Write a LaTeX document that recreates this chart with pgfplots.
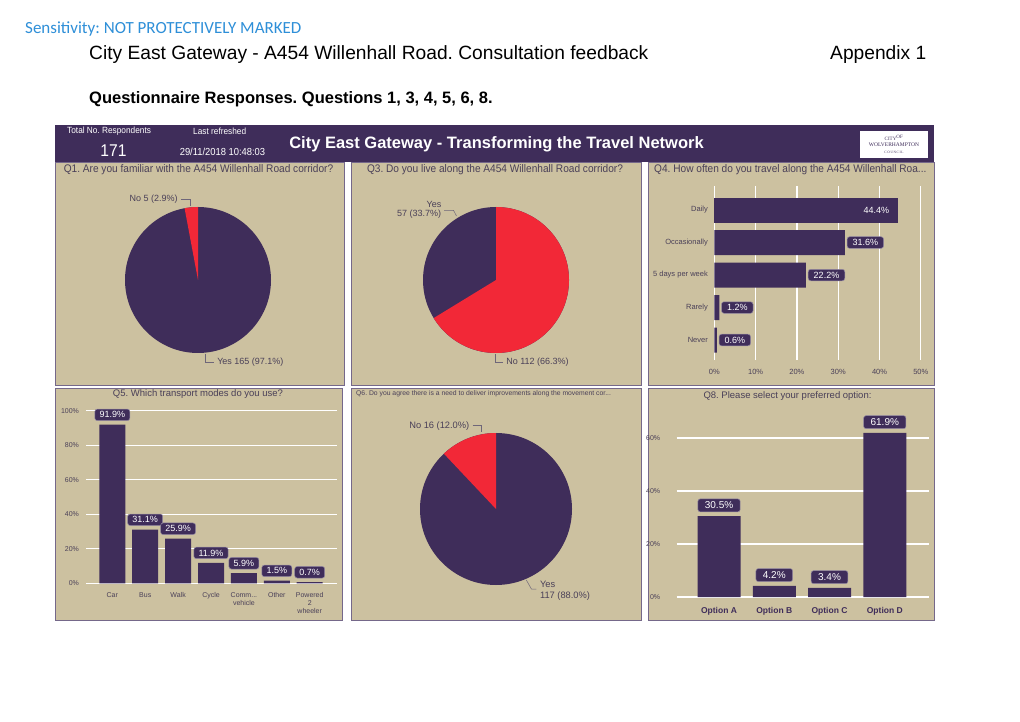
\documentclass[border=0pt]{standalone}
\usepackage{fontspec}
\setmainfont{Liberation Sans}
\newfontfamily\narrowfont[FakeStretch=0.92]{Liberation Sans}
\newfontfamily\calibrifont{Carlito}
\newfontfamily\logofont{Liberation Serif}
\usepackage{pgfplots}
\pgfplotsset{compat=1.18}
\pgfplotsset{/pgf/number format/assume math mode=true}
\frenchspacing
\definecolor{qpurple}{HTML}{3F2D5A}
\definecolor{qred}{HTML}{F22837}
\definecolor{qtan}{HTML}{CCC1A0}
\definecolor{qborder}{HTML}{75688A}
\definecolor{qtext}{HTML}{4A4058}
\definecolor{sensblue}{HTML}{2E8FD8}
% pie data
\def\qoneYes{165}\def\qoneNo{5}
\def\qthreeYes{57}\def\qthreeNo{112}
\def\qsixYes{117}\def\qsixNo{16}
\def\commlabel{Comm{.}{.}{.}}
\pgfplotsset{
  pieaxis/.style={anchor=center, hide axis, scale only axis, width=#1, height=#1,
    xmin=-1, xmax=1, ymin=-1, ymax=1, clip=false},
}
\tikzset{valbox/.style={fill=qpurple, draw=qpurple!55!white, line width=0.5pt, rounded corners=2.5pt, text=white}}
\begin{document}
\frenchspacing
\begin{tikzpicture}[x=1pt,y=1pt]
\useasboundingbox (0pt,0pt) rectangle (1020pt,721pt);
\fill[white] (0pt,0pt) rectangle (1020pt,721pt);
% page header
\node[anchor=west, inner sep=0, text=sensblue, font=\calibrifont\fontsize{17}{19}\selectfont] at (25pt,692pt) {Sensitivity: NOT PROTECTIVELY MARKED};
\node[anchor=west, inner sep=0, font=\fontsize{19.2}{21}\selectfont] at (89pt,666pt) {City East Gateway - A454 Willenhall Road. Consultation feedback};
\node[anchor=west, inner sep=0, font=\fontsize{19.2}{21}\selectfont] at (830pt,666pt) {Appendix 1};
\node[anchor=west, inner sep=0, font=\bfseries\fontsize{16.5}{18}\selectfont] at (89pt,622pt) {Questionnaire Responses. Questions 1, 3, 4, 5, 6, 8.};
% dashboard header
\fill[qpurple] (55pt,558.5pt) rectangle (934pt,596pt);
\node[anchor=west, inner sep=0, text=white, font=\narrowfont\fontsize{9}{10}\selectfont] at (67pt,590pt) {Total No. Respondents};
\node[anchor=west, inner sep=0, text=white, font=\narrowfont\fontsize{9}{10}\selectfont] at (193pt,590pt) {Last refreshed};
\node[inner sep=0, text=white, font=\narrowfont\fontsize{17}{18}\selectfont] at (113.5pt,570pt) {171};
\node[inner sep=0, text=white, font=\narrowfont\fontsize{10.2}{11}\selectfont] at (222.5pt,569pt) {29/11/2018 10:48:03};
\node[inner sep=0, text=white, font=\bfseries\fontsize{16.5}{18}\selectfont] at (496.5pt,577pt) {City East Gateway - Transforming the Travel Network};
\fill[white] (860pt,563pt) rectangle (928pt,590pt);
\node[inner sep=0, text=qpurple, font=\logofont\fontsize{5}{5}\selectfont] at (894pt,583pt) {CITY\textsuperscript{OF}};
\node[inner sep=0, text=qpurple, font=\logofont\fontsize{5.5}{6}\selectfont] at (894pt,576pt) {WOLVERHAMPTON};
\node[inner sep=0, text=qpurple, font=\logofont\fontsize{3.5}{4}\selectfont] at (894pt,569pt) {C\,O\,U\,N\,C\,I\,L};
% panels
\filldraw[fill=qtan, draw=qborder, line width=0.8pt] (55pt,336pt) rectangle (344pt,558.5pt);
\filldraw[fill=qtan, draw=qborder, line width=0.8pt] (351pt,336pt) rectangle (641pt,558.5pt);
\filldraw[fill=qtan, draw=qborder, line width=0.8pt] (648pt,336pt) rectangle (934pt,558.5pt);
\filldraw[fill=qtan, draw=qborder, line width=0.8pt] (55pt,101pt) rectangle (342pt,333pt);
\filldraw[fill=qtan, draw=qborder, line width=0.8pt] (351pt,101pt) rectangle (641pt,333pt);
\filldraw[fill=qtan, draw=qborder, line width=0.8pt] (648pt,101pt) rectangle (934pt,333pt);
% panel titles
\node[inner sep=0, text=qtext, font=\narrowfont\fontsize{11}{12}\selectfont] at (198.5pt,551pt) {Q1. Are you familiar with the A454 Willenhall Road corridor?};
\node[inner sep=0, text=qtext, font=\narrowfont\fontsize{11}{12}\selectfont] at (495pt,551pt) {Q3. Do you live along the A454 Willenhall Road corridor?};
\node[anchor=west, inner sep=0, text=qtext, font=\narrowfont\fontsize{11}{12}\selectfont] at (654pt,551pt) {Q4. How often do you travel along the A454 Willenhall Roa...};
\node[inner sep=0, text=qtext, font=\fontsize{9.5}{11}\selectfont] at (198pt,327pt) {Q5. Which transport modes do you use?};
\node[anchor=west, inner sep=0, text=qtext, font=\fontsize{6.8}{8}\selectfont] at (356pt,327pt) {Q6. Do you agree there is a need to deliver improvements along the movement cor...};
\node[inner sep=0, text=qtext, font=\fontsize{9.5}{11}\selectfont] at (787.5pt,325pt) {Q8. Please select your preferred option:};
% pie angles from data
\pgfmathsetmacro\angA{\qoneNo/(\qoneNo+\qoneYes)*360}
\pgfmathsetmacro\angB{-\qthreeNo/(\qthreeNo+\qthreeYes)*360}
\pgfmathsetmacro\angC{\qsixNo/(\qsixNo+\qsixYes)*360}
% Q1 pie
\begin{axis}[pieaxis=146pt, at={(198pt,441pt)}]
\fill[qpurple] (axis cs:0,0) circle[radius=73pt];
\fill[qred] (axis cs:0,0) -- ++(90:73pt) arc[start angle=90, delta angle=\angA, radius=73pt] -- cycle;
\end{axis}
% Q3 pie
\begin{axis}[pieaxis=146pt, at={(496pt,441pt)}]
\fill[qpurple] (axis cs:0,0) circle[radius=73pt];
\fill[qred] (axis cs:0,0) -- ++(90:73pt) arc[start angle=90, delta angle=\angB, radius=73pt] -- cycle;
\end{axis}
% Q6 pie
\begin{axis}[pieaxis=152pt, at={(496pt,212pt)}]
\fill[qpurple] (axis cs:0,0) circle[radius=76pt];
\fill[qred] (axis cs:0,0) -- ++(90:76pt) arc[start angle=90, delta angle=\angC, radius=76pt] -- cycle;
\end{axis}
% pie labels
\begin{scope}[every node/.style={inner sep=0, text=qtext, font=\fontsize{9}{10}\selectfont}, draw=qtext!80!white, line width=0.5pt]
\node[anchor=east] at (178pt,522pt) {No 5 (2.9\%)};
\draw (181pt,522pt) -- (190pt,522pt) -- (190pt,515pt);
\node[anchor=west] at (217pt,359pt) {Yes 165 (97.1\%)};
\draw (205pt,367pt) -- (205pt,359pt) -- (214pt,359pt);
\node[anchor=east] at (441.5pt,517pt) {Yes};
\node[anchor=east] at (441.5pt,506.7pt) {57 (33.7\%)};
\draw (444pt,510.7pt) -- (453.5pt,510.7pt) -- (456.5pt,505pt);
\node[anchor=west] at (506pt,359pt) {No 112 (66.3\%)};
\draw (495.6pt,367pt) -- (495.6pt,359pt) -- (503pt,359pt);
\node[anchor=east, font=\fontsize{9.3}{10}\selectfont] at (469.5pt,295.3pt) {No 16 (12.0\%)};
\draw (472.7pt,295.3pt) -- (481.5pt,295.3pt) -- (481.5pt,289.3pt);
\node[anchor=west, font=\fontsize{9.3}{10}\selectfont] at (539.8pt,137pt) {Yes};
\node[anchor=west, font=\fontsize{9.3}{10}\selectfont] at (539.8pt,125.3pt) {117 (88.0\%)};
\draw (526.3pt,141pt) -- (531.4pt,132pt) -- (536.4pt,132pt);
\end{scope}
% Q4 horizontal bars
\begin{axis}[
  at={(714.3pt,361pt)}, anchor=south west, scale only axis,
  width=206.5pt, height=174pt,
  xbar, bar width=25pt, bar shift=0pt,
  xmin=0, xmax=50, ymin=-0.615, ymax=4.74,
  xtick={0,10,20,30,40,50}, ytick={0,1,2,3,4},
  yticklabels={Never,Rarely,5 days per week,Occasionally,Daily},
  xticklabel={\pgfmathprintnumber{\tick}\%},
  axis line style={draw=none}, major tick length=0pt,
  xmajorgrids, grid style={white, line width=1.2pt},
  tick label style={font=\fontsize{7.5}{8}\selectfont, text=qtext},
  xticklabel style={yshift=-6pt},
  yticklabel style={xshift=-3pt},
  point meta=x, clip=false,
]
\addplot[fill=qpurple, draw=none,
  nodes near coords={\pgfmathprintnumber[fixed,fixed zerofill,precision=1]{\pgfplotspointmeta}\%},
  nodes near coords style={anchor=east, text=white, font=\fontsize{9}{10}\selectfont, xshift=-5pt}]
  coordinates {(44.4,4)};
\addplot[fill=qpurple, draw=none,
  nodes near coords={\pgfmathprintnumber[fixed,fixed zerofill,precision=1]{\pgfplotspointmeta}\%},
  nodes near coords style={valbox, anchor=west, font=\fontsize{9}{10}\selectfont, inner xsep=5.5pt, inner ysep=2.6pt, xshift=2pt}]
  coordinates {(31.6,3) (22.2,2) (1.2,1) (0.6,0)};
\end{axis}
% Q5 vertical bars
\begin{axis}[
  at={(86pt,137.7pt)}, anchor=south west, scale only axis,
  width=250.7pt, height=172.6pt,
  ybar, bar width=26pt, bar shift=0pt,
  xmin=-0.8, xmax=6.82, ymin=0, ymax=100,
  xtick={0,1,2,3,4,5,6},
  xticklabels={Car,Bus,Walk,Cycle,{\commlabel\\vehicle},Other,{Powered\\2\\wheeler}},
  ytick={0,20,40,60,80,100},
  yticklabel={\pgfmathprintnumber{\tick}\%},
  axis line style={draw=none}, major tick length=0pt,
  ymajorgrids, grid style={white, line width=1.2pt},
  tick label style={font=\fontsize{7}{7.7}\selectfont, text=qtext},
  xticklabel style={align=center, yshift=-6pt},
  yticklabel style={xshift=-3.5pt},
  clip=false,
]
\addplot[fill=qpurple, draw=none,
  nodes near coords={\pgfmathprintnumber[fixed,fixed zerofill,precision=1]{\pgfplotspointmeta}\%},
  nodes near coords style={valbox, anchor=south, font=\fontsize{9}{10}\selectfont, inner xsep=4.75pt, inner ysep=2.6pt, yshift=3.8pt}]
  coordinates {(0,91.9) (1,31.1) (2,25.9) (3,11.9) (4,5.9) (5,1.5) (6,0.7)};
\end{axis}
% Q8 vertical bars
\begin{axis}[
  at={(676.7pt,124pt)}, anchor=south west, scale only axis,
  width=252.3pt, height=174.9pt,
  ybar, bar width=43pt, bar shift=0pt,
  xmin=-0.766, xmax=3.80, ymin=0, ymax=66,
  xtick={0,1,2,3},
  xticklabels={Option A,Option B,Option C,Option D},
  ytick={0,20,40,60},
  yticklabel={\pgfmathprintnumber{\tick}\%},
  axis line style={draw=none}, major tick length=0pt,
  ymajorgrids, grid style={white, line width=1.2pt},
  yticklabel style={font=\fontsize{7}{8}\selectfont, text=qtext, xshift=-13pt},
  xticklabel style={font=\bfseries\fontsize{8.5}{9}\selectfont, text=qpurple, yshift=-6.5pt},
  clip=false,
]
\addplot[fill=qpurple, draw=none,
  nodes near coords={\pgfmathprintnumber[fixed,fixed zerofill,precision=1]{\pgfplotspointmeta}\%},
  nodes near coords style={valbox, anchor=south, font=\fontsize{10}{11}\selectfont, inner xsep=7pt, inner ysep=3pt, yshift=4pt}]
  coordinates {(0,30.5) (1,4.2) (2,3.4) (3,61.9)};
\end{axis}
\end{tikzpicture}
\end{document}
